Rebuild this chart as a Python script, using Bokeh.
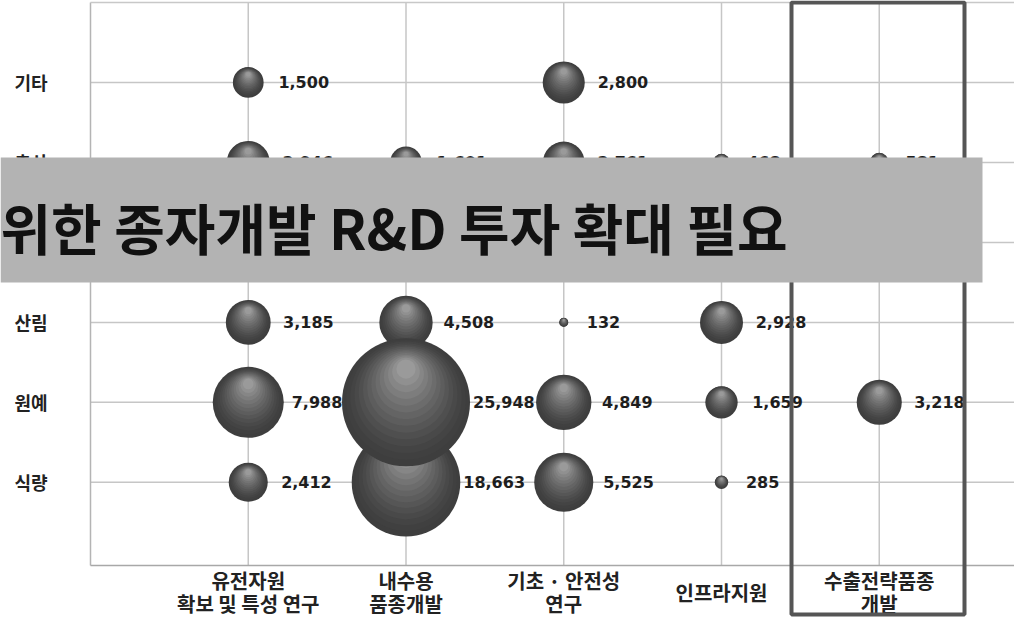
import math
from bokeh.plotting import figure
from bokeh.models import FixedTicker, Range1d, BoxAnnotation, Label, LinearAxis
from bokeh.embed import file_html
from bokeh.resources import INLINE
from bokeh.core.properties import value

# ---------------- data ----------------
x_labels = ["유전자원\n확보 및 특성 연구", "내수용\n품종개발", "기초 · 안전성\n연구", "인프라지원", "수출전략품종\n개발"]
y_labels = ["식량", "원예", "산림", "수산", "축산", "기타"]

food = [2412, 18663, 5525, 285, None]          # 식량
horti = [7988, 25948, 4849, 1659, 3218]        # 원예
forest = [3185, 4508, 132, 2928, None]         # 산림
fishery = [None, None, None, None, None]       # 수산 (hidden under banner)
livestock = [2946, 1601, 2761, 468, 581]       # 축산 (partly hidden)
other = [1500, None, 2800, None, None]         # 기타

rows = [food, horti, forest, fishery, livestock, other]
banner_text = "위한 종자개발 R&D 투자 확대 필요"

# ---------------- layout constants ----------------
W, H = 1014, 617
PA_LEFT_PX, PA_TOP_PX, PA_BOTTOM_PX = 90, 2, 565     # plot-area edges on the canvas
PA_Y0, PA_Y1 = -0.04, 7.0                            # plot-area value span (rows 1..6)
X_STEP_PX = 157.75                                   # pixels per category
px_per_y = (PA_BOTTOM_PX - PA_TOP_PX) / (PA_Y1 - PA_Y0)
x_start = -PA_LEFT_PX / X_STEP_PX
x_end = (W - PA_LEFT_PX) / X_STEP_PX
y_start = PA_Y0 - (H - PA_BOTTOM_PX) / px_per_y
y_end = PA_Y1 + PA_TOP_PX / px_per_y
MAX_D = 128.0
vmax = max(v for r in rows for v in r if v is not None)

p = figure(width=W, height=H, output_backend="svg", toolbar_location=None,
           x_range=Range1d(x_start, x_end), y_range=Range1d(y_start, y_end),
           x_axis_location=None, y_axis_location=None,
           min_border=0, background_fill_color="white", border_fill_color="white")
p.outline_line_color = None
p.grid.visible = False

xt = list(range(1, len(x_labels) + 1))
yt = list(range(1, len(y_labels) + 1))

# grid lines inside the plot area
p.segment(x0=xt, x1=xt, y0=[PA_Y0] * len(xt), y1=[PA_Y1] * len(xt),
          line_color="#c6c6c6", line_width=1.5)
p.segment(x0=[0] * len(yt), x1=[x_end] * len(yt), y0=yt, y1=yt,
          line_color="#c6c6c6", line_width=1.5)
# plot-area border (left, top, bottom)
p.segment(x0=[0, 0, 0], x1=[0, x_end, x_end], y0=[PA_Y0, PA_Y1, PA_Y0], y1=[PA_Y1, PA_Y1, PA_Y0],
          line_color=["#b4b4b4", "#c8c8c8", "#a8a8a8"], line_width=1.5)

# ---------------- axes (drawn at fixed locations) ----------------
def make_axis(ticks, overrides, standoff, size, fixed):
    ax = LinearAxis(fixed_location=fixed, ticker=FixedTicker(ticks=ticks),
                    major_label_overrides=overrides, major_label_standoff=standoff)
    ax.axis_line_color = None
    ax.major_tick_line_color = None
    ax.minor_tick_line_color = None
    ax.major_tick_out = 0
    ax.major_tick_in = 0
    ax.major_label_text_font = "Noto Sans CJK KR"
    ax.major_label_text_font_style = "bold"
    ax.major_label_text_color = "#222222"
    ax.major_label_text_font_size = size
    return ax

yax = make_axis(yt, {t: lab for t, lab in zip(yt, y_labels)}, 43, "18px", 0)
p.add_layout(yax, "left")

line1, line2, single = {}, {}, {}
for t, lab in zip(xt, x_labels):
    parts = lab.split("\n")
    if len(parts) == 1:
        single[t] = parts[0]
    else:
        line1[t], line2[t] = parts[0], parts[1]
p.add_layout(make_axis(list(line1), line1, 0, "20px", PA_Y0), "below")
p.add_layout(make_axis(list(line2), line2, 23, "20px", PA_Y0), "below")
p.add_layout(make_axis(list(single), single, 12, "20px", PA_Y0), "below")

# ---------------- bubbles ----------------
pts = []
for yi, r in enumerate(rows):
    for xi, v in enumerate(r):
        if v is None:
            continue
        d = MAX_D * math.sqrt(v / vmax)
        pts.append((xi + 1, yi + 1, v, d))

# value labels first (bubbles are drawn over them)
p.text(x=[q[0] for q in pts], y=[q[1] for q in pts],
       text=[f"{q[2]:,}" for q in pts],
       x_offset=[q[3] / 2 + max(3, 20 - 0.17 * q[3]) for q in pts],
       text_font=value("DejaVu Sans"), text_font_style="bold",
       text_font_size="16px", text_color="#1e1e1e",
       text_baseline="middle", text_align="left")

layers = 14
c0, c1 = 0x3e, 0x9a
for (x, y, v, d) in sorted(pts, key=lambda q: q[2]):
    xs, ys, ss, cs = [], [], [], []
    for k in range(layers):
        t = k / (layers - 1)
        size = d * (1.0 - 0.85 * t)
        shift = d * 0.26 * t
        c = int(c0 + (c1 - c0) * (t ** 1.4))
        xs.append(x)
        ys.append(y + shift / px_per_y)
        ss.append(size)
        cs.append("#%02x%02x%02x" % (c, c, c))
    p.scatter(x=xs, y=ys, size=ss, fill_color=cs, line_color=None, marker="circle")

# ---------------- overlays ----------------
p.add_layout(BoxAnnotation(left=791, right=964, top=2, bottom=614,
                           left_units="canvas", right_units="canvas",
                           top_units="canvas", bottom_units="canvas",
                           fill_color=None, fill_alpha=0,
                           line_color="#555555", line_alpha=1.0, line_width=4))

p.add_layout(BoxAnnotation(left=0, right=982, top=157, bottom=282,
                           left_units="canvas", right_units="canvas",
                           top_units="canvas", bottom_units="canvas",
                           fill_color="#b3b3b3", fill_alpha=1.0,
                           line_color=None))
p.add_layout(Label(x=0, y=225, x_units="canvas", y_units="canvas",
                   text=banner_text, text_font="Noto Sans CJK KR",
                   text_font_style="bold", text_font_size="55px",
                   text_color="#111111", text_baseline="middle", text_align="left"))

open("out.html", "w").write(file_html(p, INLINE))
